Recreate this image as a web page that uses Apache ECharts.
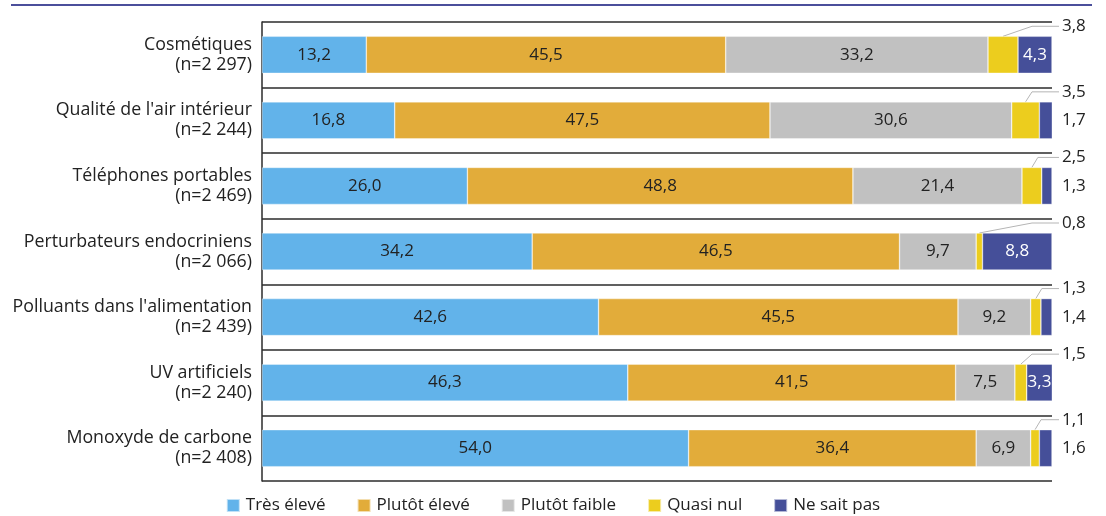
<!DOCTYPE html>
<html>
<head>
<meta charset="utf-8">
<script src="https://cdn.jsdelivr.net/npm/echarts@6/dist/echarts.min.js"></script>
<style>
  html, body { margin: 0; padding: 0; background: #fff; }
  #chart { width: 1106px; height: 516px; }
</style>
</head>
<body>
<div id="chart"></div>
<script>
// Perception du risque par source d'exposition (%)
const categories = [
  'Cosmétiques\n(n=2 297)',
  "Qualité de l'air intérieur\n(n=2 244)",
  'Téléphones portables\n(n=2 469)',
  'Perturbateurs endocriniens\n(n=2 066)',
  "Polluants dans l'alimentation\n(n=2 439)",
  'UV artificiels\n(n=2 240)',
  'Monoxyde de carbone\n(n=2 408)'
];
const seriesNames = ['Très élevé', 'Plutôt élevé', 'Plutôt faible', 'Quasi nul', 'Ne sait pas'];
const tresEleve    = [13.2, 16.8, 26.0, 34.2, 42.6, 46.3, 54.0];
const plutotEleve  = [45.5, 47.5, 48.8, 46.5, 45.5, 41.5, 36.4];
const plutotFaible = [33.2, 30.6, 21.4, 9.7, 9.2, 7.5, 6.9];
const quasiNul     = [3.8, 3.5, 2.5, 0.8, 1.3, 1.5, 1.1];
const neSaitPas    = [4.3, 1.7, 1.3, 8.8, 1.4, 3.3, 1.6];

const colors = ['#62b3ea', '#e2ac3a', '#c1c1c1', '#eccd1e', '#454f99'];
const FONT = '"Open Sans", Roboto, sans-serif';
const FS = 17;        // value labels and legend
const FS_AXIS = 17.8; // category labels
const BAR_W = 37;
const INSIDE_MIN = 3; // "Ne sait pas" values below this are written outside the bar

const fmt = v => v.toFixed(1).replace('.', ',');

function barSeries(name, data, idx, labelOpts) {
  return {
    name: name,
    type: 'bar',
    stack: 'total',
    barWidth: BAR_W,
    data: data,
    itemStyle: { color: colors[idx], borderColor: 'rgba(255,255,255,0.6)', borderWidth: 0.6 },
    label: Object.assign({
      show: true,
      position: 'inside',
      color: '#222',
      fontFamily: FONT,
      fontSize: FS,
      formatter: p => fmt(p.value)
    }, labelOpts || {}),
    emphasis: { disabled: true }
  };
}

// Outside annotations: "Quasi nul" with a leader line, small "Ne sait pas" values
const annotData = categories.map((c, i) => [
  i,
  tresEleve[i] + plutotEleve[i] + plutotFaible[i],
  quasiNul[i],
  neSaitPas[i]
]);

const annotSeries = {
  type: 'custom',
  name: 'annotations',
  clip: false,
  silent: true,
  encode: { x: 1, y: 0 },
  data: annotData,
  renderItem: function (params, api) {
    const cat = api.value(0);
    const start = api.value(1);
    const q = api.value(2);
    const n = api.value(3);
    const p0 = api.coord([start, cat]);
    const p1 = api.coord([start + q, cat]);
    const pEnd = api.coord([100, cat]);
    const topY = p0[1] - BAR_W / 2;
    const labelY = topY - 10;
    const cx = (p0[0] + p1[0]) / 2;
    const textX = pEnd[0] + 10;
    const elbowX = Math.max(cx + 6, pEnd[0] - 20);
    const children = [
      {
        type: 'polyline',
        shape: { points: [[cx, topY], [elbowX, labelY], [textX - 3, labelY]] },
        style: { stroke: '#b5b5b5', lineWidth: 1, fill: null }
      },
      {
        type: 'text',
        x: textX, y: labelY,
        style: { text: fmt(q), fill: '#222', font: FS + 'px ' + FONT, align: 'left', verticalAlign: 'middle' }
      }
    ];
    if (n < INSIDE_MIN) {
      children.push({
        type: 'text',
        x: textX, y: p0[1],
        style: { text: fmt(n), fill: '#222', font: FS + 'px ' + FONT, align: 'left', verticalAlign: 'middle' }
      });
    }
    return { type: 'group', children: children };
  }
};

const chart = echarts.init(document.getElementById('chart'), null, { renderer: 'canvas' });
chart.setOption({
  animation: false,
  textStyle: { fontFamily: FONT },
  graphic: [{
    type: 'line',
    shape: { x1: 11, y1: 5, x2: 1092, y2: 5 },
    style: { stroke: '#4b4f9b', lineWidth: 2 }
  }],
  grid: { left: 262, right: 54, top: 22, bottom: 35, containLabel: false },
  legend: {
    data: seriesNames,
    top: 492,
    left: 'center',
    itemWidth: 13,
    itemHeight: 13,
    itemGap: 31,
    icon: 'rect',
    textStyle: { fontFamily: FONT, fontSize: FS, color: '#222', padding: [0, 0, 0, 1] },
    selectedMode: false
  },
  xAxis: {
    type: 'value',
    min: 0,
    max: 100,
    show: false
  },
  yAxis: {
    type: 'category',
    data: categories,
    inverse: true,
    axisLine: { show: true, lineStyle: { color: '#2b2b2b', width: 1.5 } },
    axisTick: { show: false },
    splitLine: { show: true, lineStyle: { color: '#2b2b2b', width: 1.5 } },
    axisLabel: {
      margin: 10,
      color: '#222',
      fontFamily: FONT,
      fontSize: FS_AXIS,
      lineHeight: 20,
      align: 'right'
    }
  },
  series: [
    barSeries(seriesNames[0], tresEleve, 0),
    barSeries(seriesNames[1], plutotEleve, 1),
    barSeries(seriesNames[2], plutotFaible, 2),
    barSeries(seriesNames[3], quasiNul, 3, { show: false }),
    barSeries(seriesNames[4], neSaitPas, 4, {
      color: '#fff',
      formatter: p => (p.value >= INSIDE_MIN ? fmt(p.value) : '')
    }),
    annotSeries
  ]
});
</script>
</body>
</html>
